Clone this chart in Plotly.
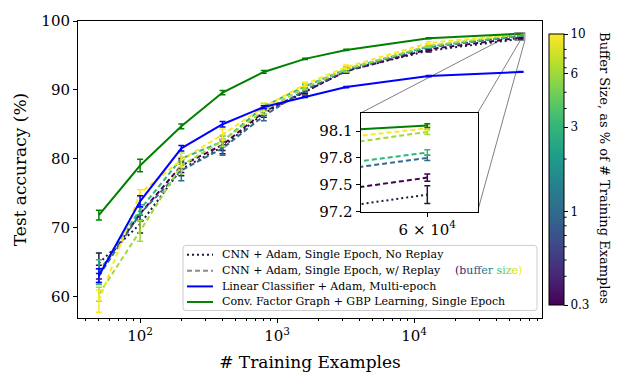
import math
import plotly.graph_objects as go
from plotly.colors import sample_colorscale

# ---------------- data ----------------
n_train = [50, 100, 200, 400, 800, 1600, 3200, 12800, 60000]

gbp_acc = [71.8, 79.0, 84.7, 89.6, 92.6, 94.5, 95.8, 97.5, 98.16]
gbp_err = [0.7, 0.9, 0.35, 0.3, 0.2, 0.1, 0.1, 0.08, 0.02]

linear_acc = [63.0, 73.8, 81.5, 85.0, 87.5, 89.0, 90.4, 92.0, 92.6]
linear_err = [1.0, 0.8, 0.4, 0.4, 0.2, 0.1, 0.1, 0.1, 0.05]

noreplay_acc = [64.8, 70.5, 78.5, 81.7, 86.6, 89.7, 92.8, 95.7, 97.39]
noreplay_err = [1.5, 1.3, 1.0, 1.0, 0.6, 0.3, 0.3, 0.2, 0.10]

buffer_pct = [0.3, 1, 3, 6, 10]
replay_0p3_acc = [63.5, 72.0, 79.0, 82.0, 86.8, 89.8, 92.7, 95.9, 97.58]
replay_0p3_err = [1.0, 1.0, 1.0, 0.8, 0.5, 0.3, 0.3, 0.2, 0.04]
replay_1_acc = [63.0, 72.0, 78.3, 81.5, 86.2, 90.0, 92.8, 96.2, 97.80]
replay_1_err = [1.0, 1.0, 1.5, 1.0, 0.7, 0.3, 0.3, 0.2, 0.03]
replay_3_acc = [63.5, 72.6, 80.0, 82.5, 87.6, 90.5, 93.0, 96.3, 97.86]
replay_3_err = [1.8, 0.7, 0.8, 0.8, 0.4, 0.3, 0.3, 0.2, 0.03]
replay_6_acc = [60.3, 69.5, 79.0, 82.6, 87.0, 90.3, 93.0, 96.4, 98.09]
replay_6_err = [1.0, 1.5, 1.2, 0.8, 0.6, 0.3, 0.4, 0.2, 0.03]
replay_10_acc = [59.3, 75.0, 79.8, 83.5, 87.5, 90.8, 93.3, 96.8, 98.13]
replay_10_err = [1.6, 0.5, 1.0, 0.8, 0.6, 0.3, 0.3, 0.2, 0.03]

replay_acc = [replay_0p3_acc, replay_1_acc, replay_3_acc, replay_6_acc, replay_10_acc]
replay_err = [replay_0p3_err, replay_1_err, replay_3_err, replay_6_err, replay_10_err]

y_ticks = [60, 70, 80, 90, 100]
x_ticks = [100, 1000, 10000]
x_ticktext = ["10<sup>2</sup>", "10<sup>3</sup>", "10<sup>4</sup>"]
inset_y_ticks = [97.2, 97.5, 97.8, 98.1]
inset_x_ticks = [60000]
inset_x_ticktext = ["6 × 10<sup>4</sup>"]
cbar_ticks = [0.3, 1, 3, 6, 10]
cbar_minor = [0.4, 0.5, 0.6, 0.7, 0.8, 0.9, 2, 4, 5, 7, 8, 9]

legend_labels = [
    "CNN + Adam, Single Epoch, No Replay",
    "CNN + Adam, Single Epoch, w/ Replay",
    "Linear Classifier + Adam, Multi-epoch",
    "Conv. Factor Graph + GBP Learning, Single Epoch",
]
legend_suffix = "(buffer size)"

# ---------------- layout constants ----------------
FONT = "DejaVu Serif"
W, H = 617, 381
ML, MR, MT, MB = 78, 75, 15, 51
PW, PH = W - ML - MR, H - MT - MB
X_RANGE = [math.log10(35.2), math.log10(86000)]
Y_RANGE = [56.85, 100.0]
INSET_X = [54500, 64500]
INSET_Y = [97.2, 98.3]
INSET_DOM_X = [0.609, 0.861]
INSET_DOM_Y = [0.358, 0.690]
CB_LEFT, CB_THICK, CB_TOP, CB_LEN = 549, 15, 37, 271

NAVY = "#1c1c3a"
BLUE = "#0000ff"
GREEN = "#008000"
GREY = "#8c8c8c"
DOT = "2px,3px"
DASH = "5px,3px"

lg = lambda v: math.log10(v)
cmin, cmax = lg(min(buffer_pct)), lg(max(buffer_pct))
def vcolor(p):
    return sample_colorscale("Viridis", [(lg(p) - cmin) / (cmax - cmin)])[0]

# pixel -> paper helpers (for decorations only)
def ppx(x):
    return (x - ML) / PW
def ppy(y):
    return (MT + PH - y) / PH

fig = go.Figure()

def add_series(y, err, color, dash, width):
    for xa, ya in (("x", "y"), ("x2", "y2")):
        fig.add_trace(go.Scatter(
            x=n_train, y=y, mode="lines", showlegend=False,
            xaxis=xa, yaxis=ya,
            line=dict(color=color, dash=dash, width=width),
            error_y=dict(type="data", array=err, visible=True, color=color,
                         thickness=1.5, width=3),
        ))

add_series(noreplay_acc, noreplay_err, NAVY, DOT, 2)
for p, acc, err in zip(buffer_pct, replay_acc, replay_err):
    add_series(acc, err, vcolor(p), DASH, 2)
add_series(linear_acc, linear_err, BLUE, "solid", 2)
add_series(gbp_acc, gbp_err, GREEN, "solid", 2)

# colorbar (dummy trace)
fig.add_trace(go.Scatter(
    x=[None, None], y=[None, None], mode="markers", showlegend=False,
    marker=dict(color=[cmin, cmax], colorscale="Viridis", cmin=cmin, cmax=cmax,
                showscale=True,
                colorbar=dict(
                    x=ppx(CB_LEFT), xanchor="left", xpad=0,
                    y=ppy(CB_TOP + CB_LEN / 2), yanchor="middle", ypad=0,
                    len=CB_LEN, lenmode="pixels", thickness=CB_THICK,
                    outlinewidth=1, outlinecolor="black",
                    tickvals=[lg(v) for v in cbar_ticks],
                    ticktext=[f"{v:g}" for v in cbar_ticks],
                    ticks="outside", ticklen=4, tickcolor="black",
                    tickfont=dict(family=FONT, size=12, color="black"),
                )),
))

# ---------------- inset marker & connectors ----------------
def px(v):
    return (lg(v) - X_RANGE[0]) / (X_RANGE[1] - X_RANGE[0])
def py(v):
    return (v - Y_RANGE[0]) / (Y_RANGE[1] - Y_RANGE[0])

rx0, rx1 = px(INSET_X[0]), px(INSET_X[1])
ry0, ry1 = py(INSET_Y[0]), py(INSET_Y[1])
grey = dict(color="#808080", width=1)
shapes = [
    dict(type="line", xref="paper", yref="paper", x0=rx0, y0=ry1,
         x1=INSET_DOM_X[0], y1=INSET_DOM_Y[1], line=grey, layer="below"),
    dict(type="line", xref="paper", yref="paper", x0=rx1, y0=ry1,
         x1=INSET_DOM_X[1], y1=INSET_DOM_Y[1], line=grey, layer="below"),
    dict(type="line", xref="paper", yref="paper", x0=rx1, y0=ry0,
         x1=INSET_DOM_X[1], y1=INSET_DOM_Y[0], line=grey, layer="below"),
    dict(type="rect", xref="paper", yref="paper", x0=INSET_DOM_X[0], y0=INSET_DOM_Y[0],
         x1=INSET_DOM_X[1], y1=INSET_DOM_Y[1], fillcolor="white",
         line=dict(width=0), layer="below"),
    dict(type="rect", xref="paper", yref="paper", x0=rx0, y0=ry0, x1=rx1, y1=ry1,
         line=grey, fillcolor="rgba(0,0,0,0)", layer="above"),
]

# colorbar minor ticks (log-scale positions)
for v in cbar_minor:
    frac = (cmax - lg(v)) / (cmax - cmin)
    yy = ppy(CB_TOP + frac * CB_LEN)
    shapes.append(dict(type="line", xref="paper", yref="paper",
                       x0=ppx(CB_LEFT + CB_THICK), x1=ppx(CB_LEFT + CB_THICK + 2.5),
                       y0=yy, y1=yy, line=dict(color="black", width=1), layer="above"))

# ---------------- manual legend ----------------
LX0, LX1, LY0, LY1 = 183, 537, 253, 322
r = 3
bx0, bx1, by0, by1 = ppx(LX0), ppx(LX1), ppy(LY0), ppy(LY1)
rxp, ryp = r / PW, r / PH
path = (f"M{bx0+rxp},{by0} L{bx1-rxp},{by0} Q{bx1},{by0} {bx1},{by0-ryp} "
        f"L{bx1},{by1+ryp} Q{bx1},{by1} {bx1-rxp},{by1} L{bx0+rxp},{by1} "
        f"Q{bx0},{by1} {bx0},{by1+ryp} L{bx0},{by0-ryp} Q{bx0},{by0} {bx0+rxp},{by0} Z")
shapes.append(dict(type="path", xref="paper", yref="paper", path=path,
                   fillcolor="rgba(255,255,255,0.85)", line=dict(color="#cccccc", width=1),
                   layer="above"))
row_y = [263, 280, 296.5, 313]
row_style = [(NAVY, DOT), (GREY, DASH), (BLUE, "solid"), (GREEN, "solid")]
annotations = []
for ry, (c, d), lab in zip(row_y, row_style, legend_labels):
    shapes.append(dict(type="line", xref="paper", yref="paper",
                       x0=ppx(187), x1=ppx(213), y0=ppy(ry), y1=ppy(ry),
                       line=dict(color=c, dash=d, width=2), layer="above"))
    annotations.append(dict(text=lab, xref="paper", yref="paper", x=ppx(220), y=ppy(ry),
                            xanchor="left", yanchor="middle", showarrow=False,
                            font=dict(family=FONT, size=11, color="black")))
cols = sample_colorscale("Viridis", [i / (len(legend_suffix) - 1) for i in range(len(legend_suffix))])
colored = "".join(f"<span style='color:{c}'>{ch}</span>" for ch, c in zip(legend_suffix, cols))
annotations.append(dict(text=colored, xref="paper", yref="paper", x=ppx(453), y=ppy(row_y[1]),
                        xanchor="left", yanchor="middle", showarrow=False,
                        font=dict(family=FONT, size=11, color="black")))
annotations.append(dict(
    text="Buffer Size, as % of # Training Examples",
    xref="paper", yref="paper", x=ppx(605), y=ppy(171), textangle=90,
    showarrow=False, font=dict(family=FONT, size=13, color="black"),
    xanchor="center", yanchor="middle",
))

x_minor = [m * 10 ** k for k in range(1, 5) for m in range(2, 10)]

axis_common = dict(showline=True, linecolor="black", linewidth=1, mirror=True,
                   showgrid=False, zeroline=False, ticks="outside", tickcolor="black",
                   tickfont=dict(family=FONT, size=15, color="black"))

fig.update_layout(
    width=W, height=H,
    margin=dict(l=ML, r=MR, t=MT, b=MB),
    paper_bgcolor="white", plot_bgcolor="white",
    font=dict(family=FONT, color="black"),
    showlegend=False,
    shapes=shapes,
    annotations=annotations,
    xaxis=dict(type="log", range=X_RANGE, tickvals=x_ticks, ticktext=x_ticktext,
               ticklen=4,
               minor=dict(tickvals=x_minor, ticks="outside", ticklen=2, tickcolor="black"),
               title=dict(text="# Training Examples", font=dict(family=FONT, size=17),
                          standoff=12),
               **axis_common),
    yaxis=dict(range=Y_RANGE, tickvals=y_ticks, ticklen=4,
               title=dict(text="Test accuracy (%)", font=dict(family=FONT, size=17),
                          standoff=10),
               **axis_common),
    xaxis2=dict(type="log", range=[lg(INSET_X[0]), lg(INSET_X[1])],
                domain=INSET_DOM_X, anchor="y2",
                tickvals=inset_x_ticks, ticktext=inset_x_ticktext, ticklen=4,
                **axis_common),
    yaxis2=dict(range=INSET_Y, domain=INSET_DOM_Y, anchor="x2",
                tickvals=inset_y_ticks, ticktext=[f"{v:.1f}" for v in inset_y_ticks],
                ticklen=4, **axis_common),
)

fig.write_html("out.html")
